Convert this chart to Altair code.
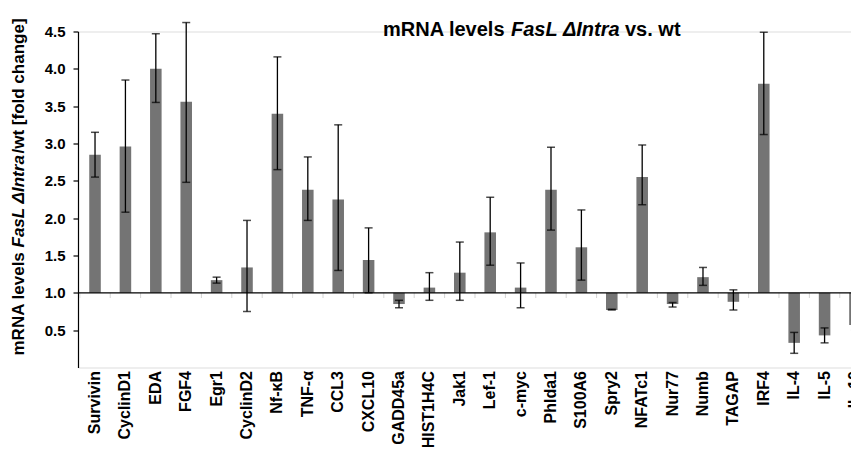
import altair as alt
import pandas as pd

genes = ["Survivin", "CyclinD1", "EDA", "FGF4", "Egr1", "CyclinD2", "Nf-κB", "TNF-α",
         "CCL3", "CXCL10", "GADD45a", "HIST1H4C", "Jak1", "Lef-1", "c-myc", "Phlda1",
         "S100A6", "Spry2", "NFATc1", "Nur77", "Numb", "TAGAP", "IRF4", "IL-4", "IL-5", "IL-10"]
fold = [2.85, 2.96, 4.00, 3.56, 1.17, 1.34, 3.40, 2.38, 2.25, 1.44, 0.85, 1.07, 1.27,
        1.81, 1.07, 2.38, 1.61, 0.77, 2.55, 0.85, 1.21, 0.88, 3.80, 0.33, 0.43, 0.57]
upper = [3.15, 3.85, 4.47, 4.62, 1.21, 1.97, 4.16, 2.82, 3.25, 1.87, 0.90, 1.27, 1.68,
         2.28, 1.40, 2.95, 2.11, 0.78, 2.98, 0.87, 1.34, 1.04, 4.49, 0.47, 0.53, 0.63]
lower = [2.55, 2.08, 3.55, 2.48, 1.13, 0.75, 2.65, 1.97, 1.30, 1.00, 0.80, 0.90, 0.90,
         1.37, 0.80, 1.84, 1.17, 0.77, 2.18, 0.81, 1.10, 0.77, 3.12, 0.19, 0.33, 0.50]
y_ticks = [0.5, 1.0, 1.5, 2.0, 2.5, 3.0, 3.5, 4.0, 4.5]
baseline_value = [1.0]
minor_tick_end = 0.93

FONT = "Liberation Sans"

df = pd.DataFrame({"gene": genes, "fold": fold, "upper": upper, "lower": lower})
base_df = pd.DataFrame({"base": baseline_value})

x_enc = alt.X(
    "gene:N", sort=genes, title=None,
    scale=alt.Scale(range=[0, 794], paddingInner=0.62, paddingOuter=0.37),
    axis=alt.Axis(domain=False, ticks=False, labelAngle=270, labelAlign="right",
                  labelBaseline="middle", labelPadding=3, labelFont=FONT,
                  labelFontSize=16, labelFontWeight="bold", labelColor="black",
                  labelOverlap=False, labelBound=False),
)
y_scale = alt.Scale(domain=[0, 4.5], nice=False, zero=False)

base = alt.Chart(df)

bars = base.mark_bar(color="#747474").encode(
    x=x_enc,
    y=alt.Y("fold:Q", scale=y_scale, title=None,
            axis=alt.Axis(values=y_ticks, format=".1f", grid=False, labelFont=FONT,
                          labelFontSize=15, labelFontWeight="bold", labelColor="black",
                          domainColor="black", domainWidth=1.2, tickColor="black",
                          tickSize=5, tickWidth=1.2, labelPadding=8)),
    y2=alt.datum(1.0),
)

minor_ticks = base.mark_rule(color="#d4d4d4", strokeWidth=1, xOffset=-15.2).encode(
    x=alt.X("gene:N", sort=genes), y=alt.datum(1.0), y2=alt.datum(minor_tick_end)
)

axis_line = alt.Chart(base_df).mark_rule(color="black", strokeWidth=1.4).encode(
    y=alt.Y("base:Q", scale=y_scale), x=alt.value(0), x2=alt.value(800)
)

err_rule = base.mark_rule(color="black", strokeWidth=1.3).encode(
    x=alt.X("gene:N", sort=genes), y="lower:Q", y2="upper:Q"
)
cap_hi = base.mark_tick(color="black", size=8, thickness=1.5).encode(
    x=alt.X("gene:N", sort=genes), y="upper:Q"
)
cap_lo = base.mark_tick(color="black", size=8, thickness=1.5).encode(
    x=alt.X("gene:N", sort=genes), y="lower:Q"
)


def txt(s, x, y, italic=False, angle=0, size=20):
    return alt.Chart(pd.DataFrame({"t": [s]})).mark_text(
        font=FONT, fontSize=size, fontWeight="bold",
        fontStyle="italic" if italic else "normal",
        align="left", baseline="alphabetic", angle=angle, color="black",
    ).encode(text="t:N", x=alt.value(x), y=alt.value(y))


title = [
    txt("mRNA levels", 305, 4.5),
    txt("FasL ΔIntra", 433, 4.5, italic=True),
    txt("vs. wt", 547, 4.5),
]
ytitle = [
    txt("mRNA levels", -54, 324, angle=270, size=17),
    txt("FasL ΔIntra", -54, 216, angle=270, size=17, italic=True),
    txt("/wt [fold change]", -54, 122, angle=270, size=17),
]

chart = alt.layer(minor_ticks, bars, axis_line, err_rule, cap_hi, cap_lo,
                  *title, *ytitle).properties(
    width=773, height=336,
    autosize=alt.AutoSizeParams(type="none"),
    padding={"left": 70, "top": 23.5, "right": 0, "bottom": 79.5},
).configure_view(stroke=None).configure(background="white")

chart.save("out.html", embed_options={"renderer": "svg", "actions": False})
